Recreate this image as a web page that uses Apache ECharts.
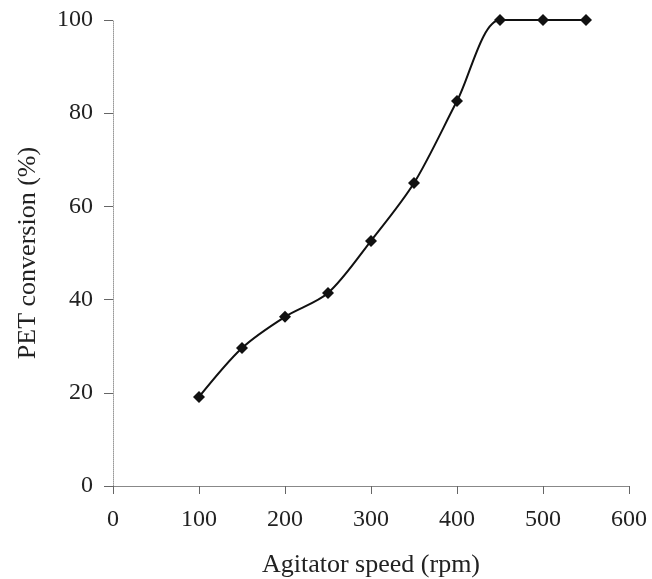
<!DOCTYPE html>
<html>
<head>
<meta charset="utf-8">
<script src="https://cdn.jsdelivr.net/npm/echarts@6/dist/echarts.min.js"></script>
<style>
html, body { margin: 0; padding: 0; background: #fff; }
#main { width: 652px; height: 579px; }
</style>
</head>
<body>
<div id="main"></div>
<script>
// agitator speed (rpm) and PET conversion (%)
var speeds = [100, 150, 200, 250, 300, 350, 400, 450, 500, 550];
var conversion = [19.1, 29.6, 36.3, 41.4, 52.6, 65.0, 82.6, 100, 100, 100];

var chart = echarts.init(document.getElementById('main'));
var font = '"Liberation Serif", "DejaVu Serif", serif';

var option = {
	backgroundColor: '#fff',
	animation: false,
	grid: { left: 113, right: 23, top: 20, bottom: 93, outerBoundsMode: 'none' },
	xAxis: {
		type: 'value',
		min: 0, max: 600, interval: 100,
		name: 'Agitator speed (rpm)',
		nameLocation: 'middle',
		nameGap: 66,
		nameTextStyle: { fontFamily: font, fontSize: 26, color: '#222' },
		axisLine: { show: true, lineStyle: { color: '#888', width: 1 } },
		axisTick: { show: true, inside: false, length: 8, lineStyle: { color: '#666' } },
		axisLabel: { fontFamily: font, fontSize: 24, color: '#222', margin: 22 },
		splitLine: { show: false }
	},
	yAxis: {
		type: 'value',
		min: 0, max: 100, interval: 20,
		name: 'PET conversion (%)',
		nameLocation: 'middle',
		nameGap: 72,
		nameRotate: 90,
		nameTextStyle: { fontFamily: font, fontSize: 26, color: '#222' },
		axisLine: { show: true, lineStyle: { color: '#999', width: 1, type: 'dotted' } },
		axisTick: { show: true, inside: false, length: 9, lineStyle: { color: '#666' } },
		axisLabel: { fontFamily: font, fontSize: 24, color: '#222', margin: 20 },
		splitLine: { show: false }
	},
	series: [{
		type: 'line',
		data: speeds.map(function(s, i) { return [s, conversion[i]]; }),
		smooth: 0.3,
		clip: false,
		symbol: 'diamond',
		symbolSize: 12,
		lineStyle: { color: '#111', width: 2 },
		itemStyle: { color: '#111' }
	}]
};
chart.setOption(option);
</script>
</body>
</html>
